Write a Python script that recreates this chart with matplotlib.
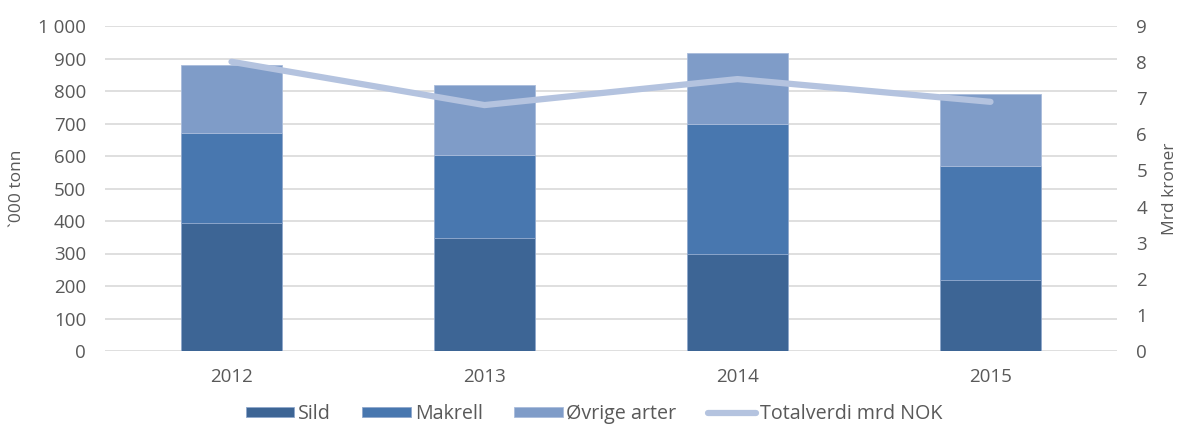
import matplotlib
matplotlib.use("Agg")
import matplotlib.pyplot as plt
import numpy as np

years = ["2012", "2013", "2014", "2015"]
sild = [395, 349, 300, 219]
makrell = [276, 253, 397, 350]
ovrige = [209, 216, 221, 223]
totalverdi = [8.01, 6.81, 7.53, 6.9]

c_sild = "#3D6595"
c_makrell = "#4877AF"
c_ovrige = "#7F9CC8"
c_line = "#B4C3DF"
txt = "#595959"
grid = "#D9D9D9"

plt.rcParams['font.family'] = ['Open Sans', 'DejaVu Sans']

fig = plt.figure(figsize=(11.79, 4.25), dpi=100)
ax = fig.add_axes([105/1179, 1-351/425, (1117-105)/1179, (351-26)/425])
x = np.arange(len(years))
w = 0.4
b1 = ax.bar(x, sild, w, color=c_sild, edgecolor="#8FA8CC", linewidth=0.6, label="Sild", zorder=2)
b2 = ax.bar(x, makrell, w, bottom=sild, color=c_makrell, edgecolor="#8FA8CC", linewidth=0.6, label="Makrell", zorder=2)
bot3 = np.array(sild) + np.array(makrell)
b3 = ax.bar(x, ovrige, w, bottom=bot3, color=c_ovrige, edgecolor="#A9BCDB", linewidth=0.6, label="Øvrige arter", zorder=2)
ax.set_xlim(-0.5, 3.5)
ax.set_ylim(0, 1000)
ax.set_yticks(np.arange(0, 1001, 100))
ax.set_yticklabels(["0", "100", "200", "300", "400", "500", "600", "700", "800", "900", "1 000"])
ax.set_xticks(x)
ax.set_xticklabels(years)
ax.yaxis.grid(True, color=grid, linewidth=1.2, zorder=0)
ax.set_axisbelow(True)
for s in ax.spines.values():
    s.set_visible(False)
ax.tick_params(axis="both", length=0, colors=txt, labelsize=13.5)
ax.tick_params(axis="y", pad=13.5)
ax.tick_params(axis="x", pad=12)
ax.set_ylabel("`000 tonn", color=txt, fontsize=12.5)
ax.yaxis.set_label_coords(-0.079, 0.5)

ax2 = ax.twinx()
ln, = ax2.plot(x, totalverdi, color=c_line, linewidth=4.5, solid_capstyle="round", label="Totalverdi mrd NOK", zorder=3)
ax2.set_ylim(0, 9)
ax2.set_yticks(np.arange(0, 10, 1))
for s in ax2.spines.values():
    s.set_visible(False)
ax2.tick_params(axis="y", length=0, colors=txt, labelsize=13.5, pad=14)
ax2.set_ylabel("Mrd kroner", color=txt, fontsize=12.5)
ax2.yaxis.set_label_coords(1.0445, 0.5)

leg = fig.legend(handles=[b1, b2, b3, ln], loc="center", bbox_to_anchor=(0.504, 1-414/425),
                 ncol=4, frameon=False, fontsize=14.2, labelcolor=txt,
                 handlelength=2.45, handleheight=0.35, columnspacing=1.6, handletextpad=0.2,
                 borderpad=0)

fig.savefig("out.png", dpi=100)
